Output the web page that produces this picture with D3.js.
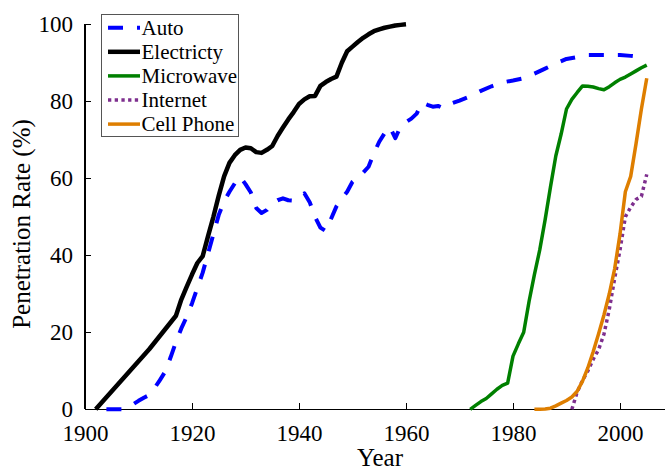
<!DOCTYPE html>
<html>
<head>
<meta charset="utf-8">
<script src="https://cdn.jsdelivr.net/npm/d3@7"></script>
<style>
  html, body { margin: 0; padding: 0; background: #fff; }
  svg { display: block; }
  text { font-family: "Liberation Serif", "Times New Roman", Times, serif; fill: #000; }
</style>
</head>
<body>
<svg id="chart" width="665" height="470"></svg>
<script>
// ---------------- data ----------------
const xTicks = [1900, 1920, 1940, 1960, 1980, 2000];
const yTicks = [0, 20, 40, 60, 80, 100];
const seriesNames = ["Auto", "Electricty", "Microwave", "Internet", "Cell Phone"];

const autoYears = [1904,1905,1906,1907,1908,1909,1910,1911,1912,1913,1914,1915,1916,1917,1918,1919,1920,1921,1922,1923,1924,1925,1926,1927,1928,1929,1930,1931,1932,1933,1934,1935,1936,1937,1938,1939,1940,1941,1942,1943,1944,1945,1946,1947,1948,1949,1950,1951,1952,1953,1954,1955,1956,1957,1958,1959,1960,1961,1962,1963,1964,1965,1966,1967,1968,1970,1972,1974,1976,1978,1980,1982,1984,1986,1988,1990,1992,1994,1996,1998,2000,2002,2004,2005];
const autoValues = [0,0,0,0,0.6,1.3,2.2,3,3.7,5.5,7.6,9.8,13.5,17.5,21,24,27.5,31.5,35.5,40.5,45.5,50.5,54,56.5,58.7,60.4,58.5,56.3,52.3,51,51.8,53.5,54.3,54.8,54.3,54.2,55.2,56.1,53.8,50,47.2,46.3,49.5,52.7,54.7,56.5,59.1,60.2,61.5,63,66.5,69.5,71.7,73.3,70.4,73.5,74.6,75.5,76.8,79.7,79.1,78.6,78.8,78.2,79.2,80.2,81.3,82.7,83.9,84.9,85.4,86,87.2,88.5,89.8,91,91.5,92,92,92,92,91.8,91.5,91.4];

const elecYears = [1902,1907,1912,1917,1918,1919,1920,1921,1922,1923,1924,1925,1926,1927,1928,1929,1930,1931,1932,1933,1934,1935,1936,1937,1938,1939,1940,1941,1942,1943,1944,1945,1946,1947,1948,1949,1950,1951,1952,1953,1954,1955,1956,1957,1958,1959,1960];
const elecValues = [0,7.8,15.6,24.3,28.5,31.8,35,38,39.8,45,50,55.5,60.5,64,66,67.4,68,67.8,66.8,66.6,67.4,68.4,71,73.2,75.3,77.2,79.3,80.5,81.3,81.4,84,85,85.8,86.4,90,93,94.2,95.4,96.5,97.4,98.2,98.7,99.1,99.4,99.7,99.85,100];

const microYears = [1972,1973,1974,1975,1976,1977,1978,1979,1980,1981,1982,1983,1984,1985,1986,1987,1988,1989,1990,1991,1992,1993,1994,1995,1996,1997,1998,1999,2000,2001,2002,2003,2004,2005];
const microValues = [0,1,2,2.8,4,5.2,6.2,6.8,13.8,17,20,28,35,41.4,49.2,57.7,65.8,71.5,78,80.5,82.3,84,83.9,83.7,83.3,83,83.8,84.8,85.7,86.3,87.1,87.9,88.7,89.4];

const internetYears = [1991,1992,1993,1994,1995,1996,1997,1998,1999,2000,2001,2002,2003,2004,2005];
const internetValues = [0,4.5,7.5,10,13,15.5,19.5,26,34,41.4,50,52.5,54.5,55.3,61];

const cellYears = [1984,1985,1986,1987,1988,1989,1990,1991,1992,1993,1994,1995,1996,1997,1998,1999,2000,2001,2002,2003,2004,2005];
const cellValues = [0,0,0.1,0.3,0.9,1.6,2.3,3.2,4.7,7.3,10.8,15,19.6,24.5,30,36.5,45.5,56.5,60.5,69,78,86];

// ---------------- layout ----------------
const svg = d3.select("#chart");
const x = d3.scaleLinear().domain([1900, 2010]).range([85, 673.5]);
const y = d3.scaleLinear().domain([0, 100]).range([409.3, 24.3]);

const series = [
  { name: seriesNames[0], years: autoYears, values: autoValues, color: "#0000ff", width: 4, dash: "15,14" },
  { name: seriesNames[1], years: elecYears, values: elecValues, color: "#000000", width: 4.5, dash: null },
  { name: seriesNames[2], years: microYears, values: microValues, color: "#008000", width: 3.5, dash: null },
  { name: seriesNames[3], years: internetYears, values: internetValues, color: "#7e2f8e", width: 3.5, dash: "3.3,3.4" },
  { name: seriesNames[4], years: cellYears, values: cellValues, color: "#de7e00", width: 3.5, dash: null }
];

const serif = "'Liberation Serif', 'Times New Roman', serif";

// axes
const xAxis = d3.axisBottom(x).tickValues(xTicks).tickFormat(d3.format("d"))
  .tickSizeInner(-6).tickSizeOuter(0).tickPadding(15);
const gx = svg.append("g").attr("transform", `translate(0,${y(0)})`).call(xAxis);
gx.attr("font-family", serif);
gx.select(".domain").remove();
gx.selectAll("line").attr("stroke", "#000").attr("shape-rendering", "crispEdges");
gx.selectAll("text").attr("font-size", 23).style("font-family", serif);

const yAxis = d3.axisLeft(y).tickValues(yTicks)
  .tickSizeInner(-6).tickSizeOuter(0).tickPadding(12);
const gy = svg.append("g").attr("transform", `translate(${x(1900)},0)`).call(yAxis);
gy.attr("font-family", serif);
gy.select(".domain").remove();
gy.selectAll("line").attr("stroke", "#000").attr("shape-rendering", "crispEdges");
gy.selectAll("text").attr("font-size", 23).style("font-family", serif);

svg.append("line").attr("x1", x(1900)).attr("x2", 665).attr("y1", y(0)).attr("y2", y(0))
  .attr("stroke", "#000").attr("stroke-width", 1.2).attr("shape-rendering", "crispEdges");
svg.append("line").attr("x1", x(1900)).attr("x2", x(1900)).attr("y1", y(0)).attr("y2", y(100))
  .attr("stroke", "#000").attr("stroke-width", 1.2).attr("shape-rendering", "crispEdges");

// axis titles
svg.append("text").attr("x", 380).attr("y", 466).attr("text-anchor", "middle")
  .attr("font-size", 25).text("Year");
svg.append("text").attr("transform", "translate(30,224) rotate(-90)").attr("text-anchor", "middle")
  .attr("font-size", 25).text("Penetration Rate (%)");

// lines
const line = d3.line().x(d => x(d[0])).y(d => y(d[1]));
series.forEach(s => {
  const pts = s.years.map((yr, i) => [yr, s.values[i]]);
  svg.append("path").datum(pts).attr("d", line)
    .attr("fill", "none").attr("stroke", s.color).attr("stroke-width", s.width)
    .attr("stroke-linejoin", "round")
    .attr("stroke-dasharray", s.dash);
});

// legend
const lg = svg.append("g");
lg.append("rect").attr("x", 101.5).attr("y", 14.5).attr("width", 137).attr("height", 122)
  .attr("fill", "#fff").attr("stroke", "#555").attr("stroke-width", 1);
series.forEach((s, i) => {
  const cy = 27.7 + i * 24.1;
  lg.append("line").attr("x1", 108).attr("x2", 140).attr("y1", cy).attr("y2", cy)
    .attr("stroke", s.color).attr("stroke-width", s.width).attr("stroke-dasharray", s.dash);
  lg.append("text").attr("x", 141.5).attr("y", cy + 7).attr("font-size", 21).text(s.name);
});
</script>
</body>
</html>
